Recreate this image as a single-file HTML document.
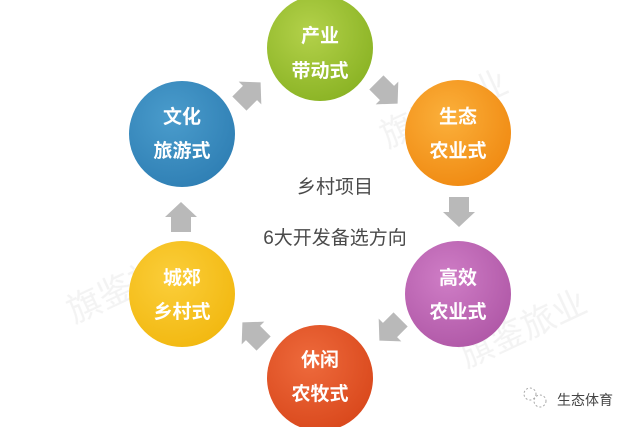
<!DOCTYPE html>
<html><head><meta charset="utf-8"><style>
html,body{margin:0;padding:0;background:#fff;}
body{width:640px;height:427px;overflow:hidden;position:relative;font-family:"Liberation Sans","Noto Sans CJK SC",sans-serif;}
</style></head><body>
<svg width="640" height="427" viewBox="0 0 640 427" xmlns="http://www.w3.org/2000/svg" style="position:absolute;left:0;top:0">
<defs>
<radialGradient id="g1" cx="40%" cy="35%" r="70%"><stop offset="0" stop-color="#b3d14a"/><stop offset="1" stop-color="#8ab324"/></radialGradient>
<radialGradient id="g2" cx="40%" cy="35%" r="70%"><stop offset="0" stop-color="#fbb03b"/><stop offset="1" stop-color="#f08a12"/></radialGradient>
<radialGradient id="g3" cx="40%" cy="35%" r="70%"><stop offset="0" stop-color="#cf7dc6"/><stop offset="1" stop-color="#b058a7"/></radialGradient>
<radialGradient id="g4" cx="40%" cy="35%" r="70%"><stop offset="0" stop-color="#ee6a3c"/><stop offset="1" stop-color="#d9481c"/></radialGradient>
<radialGradient id="g5" cx="40%" cy="35%" r="70%"><stop offset="0" stop-color="#fbce3a"/><stop offset="1" stop-color="#f2b810"/></radialGradient>
<radialGradient id="g6" cx="40%" cy="35%" r="70%"><stop offset="0" stop-color="#4a9ccc"/><stop offset="1" stop-color="#2f7fb4"/></radialGradient>
<path id="ar" d="M-10,-15 H10 V0 H16 L0,15 L-16,0 H-10 Z" fill="#b9b9b9"/>
</defs>
<g font-family="Liberation Sans, Noto Sans CJK SC, sans-serif" font-size="34" fill="#eeeeee" opacity="0.7">
<text x="370" y="130" transform="rotate(-25 420 100)">旗鉴旅业</text>
<text x="60" y="300" transform="rotate(-25 120 280)">旗鉴旅业</text>
<text x="450" y="345" transform="rotate(-25 510 320)">旗鉴旅业</text>
</g>
<circle cx="320" cy="48" r="53" fill="url(#g1)"/>
<circle cx="458" cy="133" r="53" fill="url(#g2)"/>
<circle cx="458" cy="294" r="53" fill="url(#g3)"/>
<circle cx="320" cy="378" r="53" fill="url(#g4)"/>
<circle cx="182" cy="294" r="53" fill="url(#g5)"/>
<circle cx="182" cy="134" r="53" fill="url(#g6)"/>
<use href="#ar" transform="translate(387,93) rotate(-45)"/>
<use href="#ar" transform="translate(459,212)"/>
<use href="#ar" transform="translate(390,330) rotate(45)"/>
<use href="#ar" transform="translate(253,333) rotate(135)"/>
<use href="#ar" transform="translate(181,217) rotate(180)"/>
<use href="#ar" transform="translate(250,93) rotate(-135)"/>
<g font-family="Liberation Sans, Noto Sans CJK SC, sans-serif" font-size="19" font-weight="bold" fill="#fff" text-anchor="middle">
<text x="320" y="42">产业</text><text x="320" y="77">带动式</text>
<text x="458" y="123">生态</text><text x="458" y="157">农业式</text>
<text x="458" y="284">高效</text><text x="458" y="318">农业式</text>
<text x="320" y="366">休闲</text><text x="320" y="400">农牧式</text>
<text x="182" y="284">城郊</text><text x="182" y="318">乡村式</text>
<text x="182" y="123">文化</text><text x="182" y="157">旅游式</text>
</g>
<g font-family="Liberation Sans, Noto Sans CJK SC, sans-serif" font-size="19" fill="#4a4a4a" text-anchor="middle">
<text x="335" y="193">乡村项目</text>
<text x="335" y="244">6大开发备选方向</text>
</g>
<g stroke="#aaa" fill="none" stroke-width="1" stroke-dasharray="2 2">
<circle cx="530" cy="394" r="6"/><circle cx="540" cy="401" r="6"/>
</g>
<text x="557" y="405" font-family="Liberation Sans, Noto Sans CJK SC, sans-serif" font-size="14" fill="#444">生态体育</text>
</svg>
</body></html>
